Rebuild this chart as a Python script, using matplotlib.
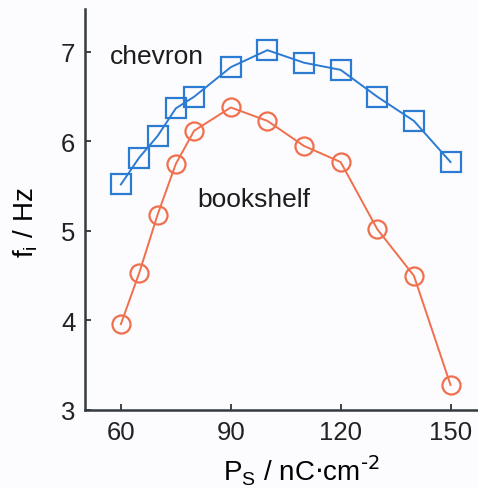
import matplotlib.pyplot as plt

plt.rcParams['font.family'] = ['Liberation Sans', 'DejaVu Sans']

# data
ps = [60, 65, 70, 75, 80, 90, 100, 110, 120, 130, 140, 150]
chevron = [5.52, 5.82, 6.06, 6.37, 6.50, 6.83, 7.02, 6.88, 6.80, 6.50, 6.23, 5.77]
bookshelf = [3.96, 4.53, 5.18, 5.75, 6.12, 6.38, 6.23, 5.95, 5.77, 5.02, 4.50, 3.28]
xticks = [60, 90, 120, 150]
yticks = [3, 4, 5, 6, 7]

blue = '#2b7bd3'
orange = '#f06f4c'

fig = plt.figure(figsize=(4.78, 4.89), dpi=100, facecolor='#fcfcfe')
ax = fig.add_axes([85/478, 1-411/489, 1-85/478, (411-10)/489])
ax.set_facecolor('#fcfcfe')

ax.plot(ps, chevron, color=blue, lw=1.4, marker='s', ms=14, mfc='none', mec=blue, mew=1.6)
ax.plot(ps, bookshelf, color=orange, lw=1.4, marker='o', ms=13, mfc='none', mec=orange, mew=1.6)

ax.set_xlim(50.2, 157.5)
ax.set_ylim(3, 7.48)
ax.set_xticks(xticks)
ax.set_yticks(yticks)
ax.spines['top'].set_visible(False)
ax.spines['right'].set_visible(False)
for s in ['left', 'bottom']:
    ax.spines[s].set_color('#333a40')
    ax.spines[s].set_linewidth(1.8)
ax.tick_params(direction='in', length=4, width=1.2, labelsize=18.5, colors='#222222', pad=7)

ax.text(57, 6.95, 'chevron', fontsize=19, color='#1c1c1c', va='center')
ax.text(81, 5.36, 'bookshelf', fontsize=19, color='#1c1c1c', va='center')

ax.set_xlabel(r'P$_\mathregular{S}$ / nC$\cdot$cm$^\mathregular{\text{-2}}$', fontsize=20)
ax.xaxis.set_label_coords(0.55, -0.105)
ax.set_ylabel(r'f$_\mathregular{i}$ / Hz', fontsize=20)
ax.yaxis.set_label_coords(-0.115, 0.47)

plt.savefig('out.png', dpi=100, facecolor=fig.get_facecolor())
